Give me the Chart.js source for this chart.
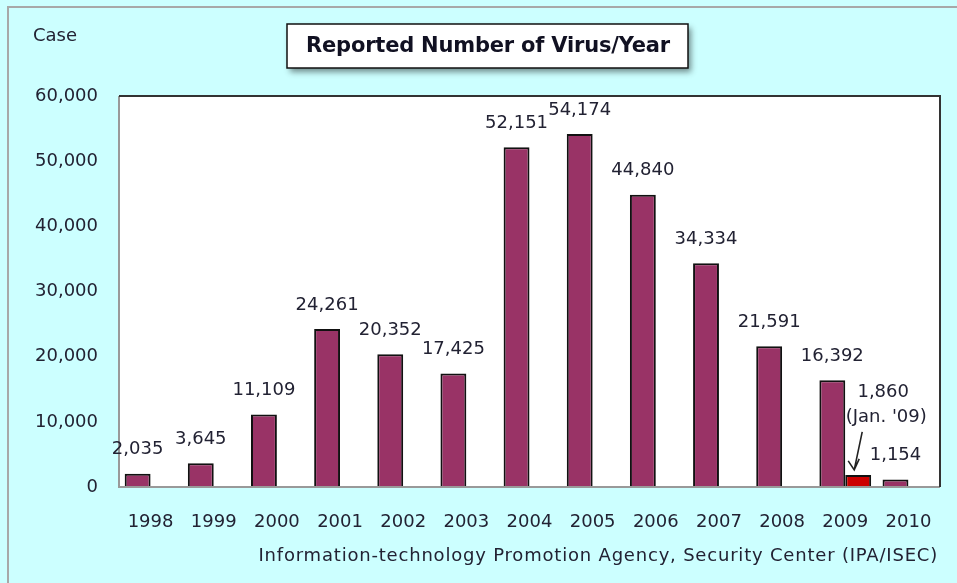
<!DOCTYPE html>
<html>
<head>
<meta charset="utf-8">
<script src="https://cdn.jsdelivr.net/npm/chart.js@4"></script>
<style>
  html, body { margin: 0; padding: 0; background: #ccffff; }
  #wrap { width: 957px; height: 583px; }
</style>
</head>
<body>
<div id="wrap"><canvas id="virusChart" width="957" height="583"></canvas></div>
<script>
// data
var years = ['1998', '1999', '2000', '2001', '2002', '2003', '2004', '2005', '2006', '2007', '2008', '2009', '2010'];
var cases = [2035, 3645, 11109, 24261, 20352, 17425, 52151, 54174, 44840, 34334, 21591, 16392, 1154];
var janCases = [null, null, null, null, null, null, null, null, null, null, null, 1860, null];
var janNote = '(Jan. \'09)';
var yTicks = [0, 10000, 20000, 30000, 40000, 50000, 60000];

var FONT = 'DejaVu Sans';
var TXT = '#222233';

// background, frame, title box and notes
var decor = {
  id: 'decor',
  beforeDraw: function(chart) {
    var ctx = chart.ctx, a = chart.chartArea;
    ctx.save();
    ctx.fillStyle = '#ccffff';
    ctx.fillRect(0, 0, chart.width, chart.height);
    ctx.strokeStyle = '#a8a8a8';
    ctx.lineWidth = 2;
    ctx.beginPath();
    ctx.moveTo(8, chart.height); ctx.lineTo(8, 7); ctx.lineTo(chart.width, 7);
    ctx.stroke();
    ctx.fillStyle = '#ffffff';
    ctx.fillRect(a.left, a.top, a.right - a.left, a.bottom - a.top);

    // title box with shadow
    ctx.save();
    ctx.shadowColor = 'rgba(0,0,0,0.45)';
    ctx.shadowBlur = 6;
    ctx.shadowOffsetX = 3;
    ctx.shadowOffsetY = 4;
    ctx.fillStyle = '#ffffff';
    ctx.fillRect(287, 24, 401, 44);
    ctx.restore();
    ctx.strokeStyle = '#111';
    ctx.lineWidth = 1.5;
    ctx.strokeRect(287, 24, 401, 44);
    ctx.fillStyle = '#111122';
    ctx.font = 'bold 21px ' + FONT;
    ctx.letterSpacing = '-0.2px';
    ctx.textAlign = 'center';
    ctx.textBaseline = 'middle';
    ctx.fillText('Reported Number of Virus/Year', 488, 47);
    ctx.letterSpacing = '0px';

    ctx.font = '18px ' + FONT;
    ctx.fillStyle = TXT;
    ctx.textAlign = 'left';
    ctx.fillText('Case', 33, 36);
    ctx.letterSpacing = '0.8px';
    ctx.textAlign = 'right';
    ctx.fillText('Information-technology Promotion Agency, Security Center (IPA/ISEC)', 938, 556);
    ctx.restore();
  },
  afterDatasetsDraw: function(chart) {
    var ctx = chart.ctx, a = chart.chartArea;
    ctx.save();
    ctx.lineWidth = 2;
    ctx.strokeStyle = '#999';
    ctx.beginPath();
    ctx.moveTo(a.left, a.top); ctx.lineTo(a.left, a.bottom); ctx.lineTo(a.right, a.bottom);
    ctx.stroke();
    ctx.strokeStyle = '#333';
    ctx.beginPath();
    ctx.moveTo(a.left, a.top); ctx.lineTo(a.right, a.top); ctx.lineTo(a.right, a.bottom);
    ctx.stroke();

    // value labels
    ctx.font = '18px ' + FONT;
    ctx.fillStyle = TXT;
    ctx.textAlign = 'center';
    ctx.textBaseline = 'middle';
    chart.getDatasetMeta(0).data.forEach(function(bar, i) {
      ctx.fillText(cases[i].toLocaleString('en-US'), bar.x, bar.y - 24);
    });
    chart.getDatasetMeta(1).data.forEach(function(bar, i) {
      if (janCases[i] == null) return;
      ctx.fillText(janCases[i].toLocaleString('en-US'), bar.x + 25, bar.y - 83);
      ctx.fillText(janNote, bar.x + 28, bar.y - 58);
      // arrow
      var x1 = bar.x + 4, y1 = bar.y - 43, x2 = bar.x - 4, y2 = bar.y - 5;
      ctx.strokeStyle = '#222';
      ctx.lineWidth = 1.6;
      ctx.beginPath();
      ctx.moveTo(x1, y1); ctx.lineTo(x2, y2);
      ctx.moveTo(x2 - 6, y2 - 9); ctx.lineTo(x2, y2); ctx.lineTo(x2 + 5, y2 - 11);
      ctx.stroke();
    });
    ctx.restore();
  }
};

var ctx = document.getElementById('virusChart').getContext('2d');
var virusChart = new Chart(ctx, {
  type: 'bar',
  data: {
    labels: years,
    datasets: [{
      label: 'Cases',
      data: cases,
      backgroundColor: '#993366',
      borderColor: '#111',
      borderWidth: 2,
      borderSkipped: 'bottom'
    }, {
      label: 'Jan. 09',
      data: janCases,
      backgroundColor: '#cc0000',
      borderColor: '#111',
      borderWidth: 2,
      borderSkipped: 'bottom'
    }]
  },
  options: {
    responsive: false,
    animation: false,
    locale: 'en-US',
    layout: { padding: { top: 96, right: 17, left: 0, bottom: 0 } },
    categoryPercentage: 0.82,
    barPercentage: 1.0,
    plugins: {
      legend: { display: false },
      title: { display: false },
      tooltip: { enabled: false }
    },
    scales: {
      x: {
        grid: { display: false, drawTicks: false },
        border: { display: false },
        ticks: { color: TXT, font: { family: FONT, size: 18 }, padding: 25, maxRotation: 0 },
        afterFit: function(scale) { scale.height = 583 - 487; }
      },
      y: {
        min: 0,
        max: 60000,
        grid: { display: false, drawTicks: false },
        border: { display: false },
        afterBuildTicks: function(scale) {
          scale.ticks = yTicks.map(function(v) { return { value: v }; });
        },
        ticks: {
          color: TXT,
          font: { family: FONT, size: 18 },
          padding: 21,
          callback: function(v) { return v.toLocaleString('en-US'); }
        },
        afterFit: function(scale) { scale.width = 119; }
      }
    }
  },
  plugins: [decor]
});
</script>
</body>
</html>
